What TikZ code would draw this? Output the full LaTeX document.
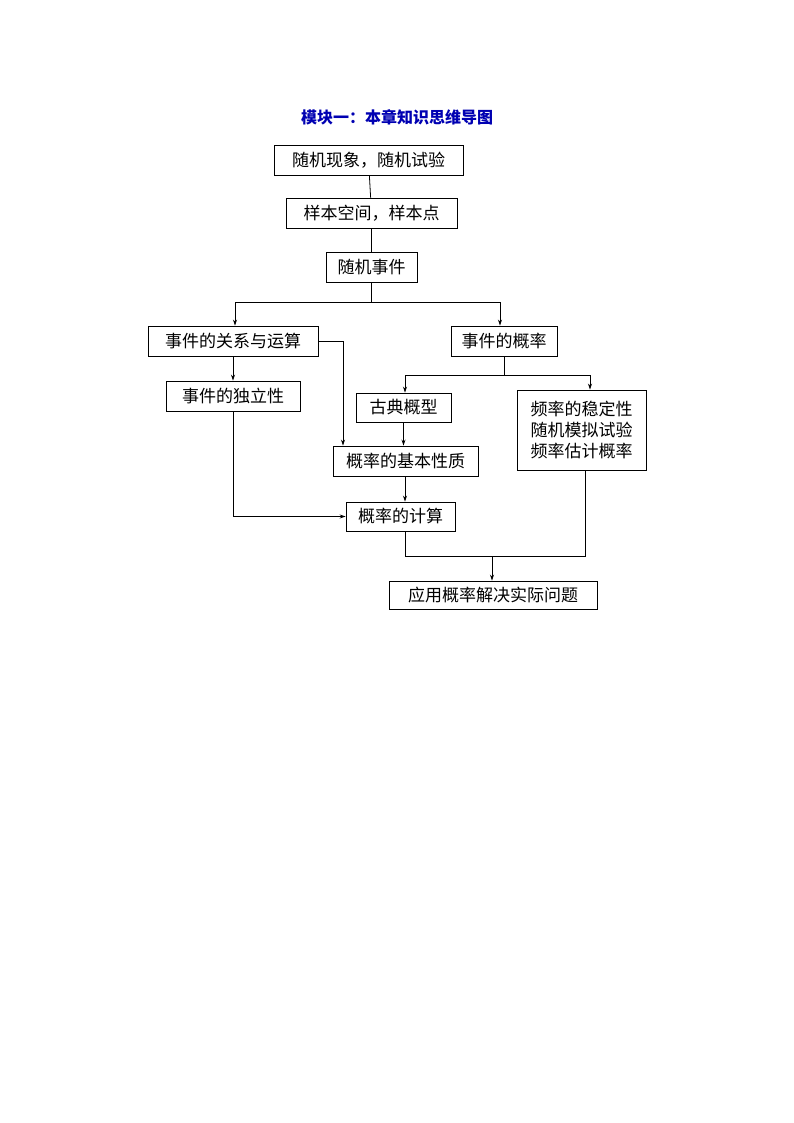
\documentclass[tikz,border=0pt]{standalone}
\usepackage{fontspec}
\newfontfamily\cjk{Noto Sans CJK SC}
\usetikzlibrary{arrows.meta}
\begin{document}
\begin{tikzpicture}[x=1pt,y=-1pt,
  bx/.style={draw,line width=0.9pt,font=\cjk\fontsize{17}{21}\selectfont,inner sep=0pt,align=center},
  ln/.style={line width=0.8pt},
  ar/.style={ln,-{Stealth[length=6pt,width=4pt]}}]
\useasboundingbox (0,0) rectangle (794,1123);
\node[font=\cjk\bfseries\fontsize{16}{20}\selectfont,text=blue!70!black] (t) at (397,117) {模块一：本章知识思维导图};
\node[bx,minimum width=189pt,minimum height=30pt] (b1) at (368.5,160) {随机现象，随机试验};
\node[bx,minimum width=171pt,minimum height=30pt] (b2) at (371.5,213) {样本空间，样本点};
\node[bx,minimum width=91pt,minimum height=30pt] (b3) at (371.5,267) {随机事件};
\node[bx,minimum width=170pt,minimum height=30pt] (b4) at (233,341) {事件的关系与运算};
\node[bx,minimum width=106pt,minimum height=30pt] (b5) at (504,341) {事件的概率};
\node[bx,minimum width=134pt,minimum height=30pt] (b6) at (233,396) {事件的独立性};
\node[bx,minimum width=95pt,minimum height=29pt] (b7) at (403.5,407.5) {古典概型};
\node[bx,minimum width=129pt,minimum height=80pt] (b9) at (581.5,430) {频率的稳定性\\随机模拟试验\\频率估计概率};
\node[bx,minimum width=145pt,minimum height=30pt] (b8) at (405.5,461) {概率的基本性质};
\node[bx,minimum width=109pt,minimum height=29pt] (b10) at (400.5,516.5) {概率的计算};
\node[bx,minimum width=208pt,minimum height=28pt] (b11) at (493,595) {应用概率解决实际问题};
\coordinate (s1) at (371.5,302);
\coordinate (s2) at (504,375);
\coordinate (s3) at (492,556);
\draw[ln] (b1) -- (b2);
\draw[ln] (b2) -- (b3);
\draw[ln] (b3.south) -- (s1);
\draw[ar] (s1) -| (b4.north -| 235,0);
\draw[ar] (s1) -| (b5.north -| 500,0);
\draw[ar] (b4) -- (b6);
\draw[ar] (b4.east) -| (b8.north -| 343,0);
\draw[ln] (b5) -- (s2);
\draw[ar] (s2) -| (b7.north -| 405,0);
\draw[ar] (s2) -| (b9.north -| 590,0);
\draw[ar] (b7) -- (b8.north -| b7);
\draw[ar] (b8.south -| 405,0) -- (b10.north -| 405,0);
\draw[ar] (b6.south) |- (b10.west);
\draw[ln] (b10.south -| 405,0) |- (s3);
\draw[ln] (b9.south -| 585,0) |- (s3);
\draw[ar] (s3) -- (b11.north -| s3);
\end{tikzpicture}
\end{document}
